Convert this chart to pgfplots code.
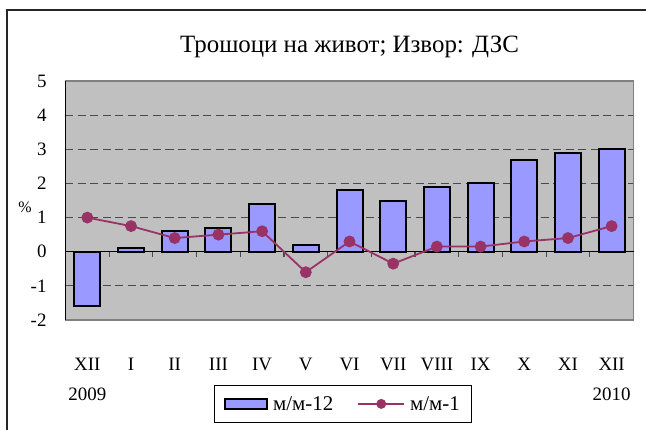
\documentclass[border=0pt]{standalone}
\usepackage{pgfplots}
\usepackage{pgfplotstable}
\pgfplotsset{compat=1.18}
\usepackage{fontspec}
\setmainfont{Liberation Serif}
\definecolor{barfill}{HTML}{9999FF}
\definecolor{plotbg}{HTML}{C0C0C0}
\definecolor{linec}{HTML}{993366}
\definecolor{gridc}{HTML}{4A4A4A}
\definecolor{boxc}{HTML}{808080}
\pgfplotstableread{
x m12 m1
0 -1.6 1.0
1 0.1 0.75
2 0.6 0.4
3 0.7 0.5
4 1.4 0.6
5 0.2 -0.6
6 1.8 0.3
7 1.5 -0.35
8 1.9 0.15
9 2.0 0.15
10 2.7 0.3
11 2.9 0.4
12 3.0 0.75
}\datatable
\begin{document}
\begin{tikzpicture}
\useasboundingbox (-65.5bp,-110bp) rectangle (580.5bp,320bp);
\draw[line width=1.2bp, black!85] (-58.5bp,-120bp) -- (-58.5bp,310bp) -- (600bp,310bp);
\begin{axis}[
  at={(0,0)}, anchor=south west, clip=false,
  scale only axis, width=568bp, height=239bp,
  xmin=-0.5, xmax=12.5, ymin=-2, ymax=5,
  ybar, bar width=26bp, bar shift=0pt,
  ytick={-2,-1,0,1,2,3,4,5},
  xtick={0,1,2,3,4,5,6,7,8,9,10,11,12},
  xticklabels={{XII\\2009},I,II,III,IV,V,VI,VII,VIII,IX,X,XI,{XII\\2010}},
  xtick style={draw=none}, ytick style={draw=none},
  xticklabel style={align=center, anchor=north, inner sep=0pt, yshift=-34bp, font=\fontsize{19}{30}\selectfont},
  yticklabel style={anchor=east, inner sep=0pt, xshift=-18.8bp, font=\fontsize{19}{22}\selectfont},
  /pgf/number format/assume math mode=true,
  axis background/.style={fill=plotbg},
  axis line style={draw=boxc, line width=1.2bp},
  ymajorgrids,
  major grid style={gridc, line width=1.2bp, dash pattern=on 8bp off 4.5bp},
  title={Трошоци на живот; Извор: ДЗС},
  title style={at={(0.5,1)}, anchor=base, yshift=22.7bp, font=\fontsize{25}{30}\selectfont},
  ylabel={\%},
  ylabel style={at={(axis description cs:-0.0713,0.473)}, rotate=-90, anchor=center, font=\fontsize{16}{20}\selectfont},
  legend columns=2,
  legend style={at={(0.4886,-0.351)}, anchor=center, draw=black, fill=white, line width=1bp,
    font=\fontsize{21}{24}\selectfont, inner xsep=10bp, inner ysep=9bp,
    /tikz/every odd column/.append style={column sep=3bp},
    /tikz/every even column/.append style={column sep=22bp}},
]
\draw[black, line width=1.4bp] (axis cs:-0.5,0) -- (axis cs:12.5,0);
\pgfplotsinvokeforeach{0.5,1.5,2.5,3.5,4.5,5.5,6.5,7.5,8.5,9.5,10.5,11.5}{
  \draw[gridc, line width=1.2bp] (axis cs:#1,0) -- ([yshift=-5bp]axis cs:#1,0);
}
\addplot[fill=barfill, draw=black, line width=2bp,
  legend image code/.code={\draw[fill=barfill, draw=black, line width=2bp] (0bp,-5bp) rectangle (42bp,5bp);}]
  table[x=x, y=m12] {\datatable};
\addlegendentry{м/м-12}
\addplot[sharp plot, linec, line width=1.8bp, mark=*, mark size=5bp, mark options={fill=linec, draw=linec},
  legend image code/.code={\draw[linec, line width=1.8bp] (0bp,0bp) -- (46bp,0bp); \fill[linec] (23bp,0bp) circle (4bp);}]
  table[x=x, y=m1] {\datatable};
\addlegendentry{м/м-1}
\draw[black, line width=1.4bp] (rel axis cs:0,0) -- (rel axis cs:0,1);
\end{axis}
\end{tikzpicture}
\end{document}
